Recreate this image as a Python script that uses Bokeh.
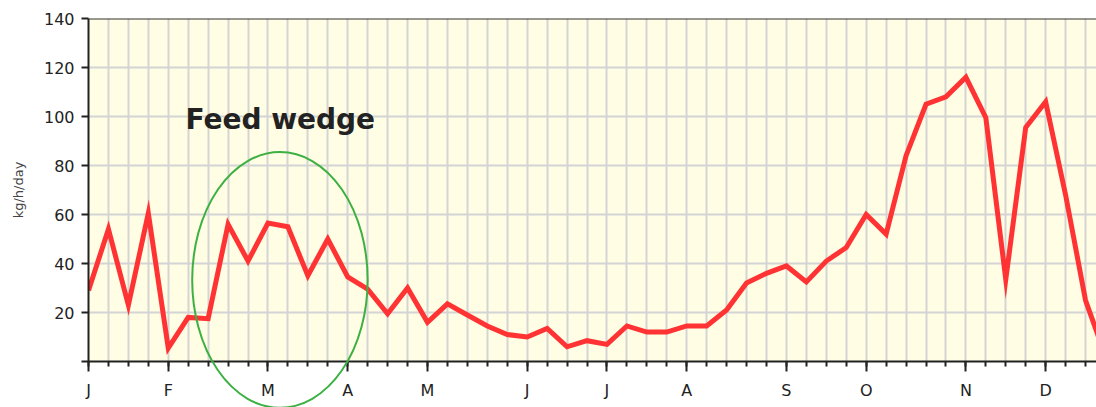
from bokeh.plotting import figure
from bokeh.models import Range1d, FixedTicker, Span, Label, ColumnDataSource
from bokeh.embed import file_html
from bokeh.resources import INLINE

# ---- data ----
weeks = list(range(52))
growth = [29, 54, 23, 60.5, 5.5, 18, 17.5, 56, 41, 56.5,
          55, 35, 50, 34.5, 29.5, 19.5, 30, 16, 23.5, 19,
          14.5, 11, 10, 13.5, 6, 8.5, 7, 14.5, 12, 12,
          14.5, 14.5, 21, 32, 36, 39, 32.5, 41, 46.5, 60,
          52, 84, 105, 108, 116, 99.5, 33.5, 95.5, 106, 68,
          25, 2]
month_labels = ["J", "F", "M", "A", "M", "J", "J", "A", "S", "O", "N", "D"]
month_weeks = [0, 4, 9, 13, 17, 22, 26, 30, 35, 39, 44, 48]
y_ticks = [0, 20, 40, 60, 80, 100, 120, 140]
y_labels = ["", "20", "40", "60", "80", "100", "120", "140"]
annotation_text = "Feed wedge"
y_axis_title = "kg/h/day"

FONT = "DejaVu Sans"
TXT = "#222222"
GREEN = "#3cb043"

p = figure(width=1096, height=407, output_backend="svg", toolbar_location=None,
           x_range=Range1d(0, 50.55), y_range=Range1d(0, 140),
           min_border_left=88, min_border_right=0, min_border_top=18, min_border_bottom=46)
p.background_fill_color = "#fffde4"
p.border_fill_color = "white"
p.outline_line_color = None

# grids
p.xgrid.ticker = FixedTicker(ticks=list(range(0, 52)))
p.xgrid.grid_line_color = "#d4d4d4"
p.xgrid.grid_line_width = 2
p.ygrid.ticker = FixedTicker(ticks=y_ticks)
p.ygrid.grid_line_color = "#d4d4d4"
p.ygrid.grid_line_width = 2

# x axis
xa = p.xaxis[0]
xa.ticker = FixedTicker(ticks=month_weeks, minor_ticks=list(range(0, 52)))
xa.major_label_overrides = {w: l for w, l in zip(month_weeks, month_labels)}
xa.axis_line_color = TXT
xa.axis_line_width = 2
xa.major_tick_line_color = TXT
xa.major_tick_line_width = 2
xa.major_tick_out = 10
xa.major_tick_in = 0
xa.minor_tick_line_color = TXT
xa.minor_tick_line_width = 2
xa.minor_tick_out = 5
xa.minor_tick_in = 0
xa.major_label_text_font = FONT
xa.major_label_text_font_size = "16px"
xa.major_label_text_color = TXT
xa.major_label_standoff = 9

# y axis
ya = p.yaxis[0]
ya.ticker = FixedTicker(ticks=y_ticks)
ya.major_label_overrides = {t: l for t, l in zip(y_ticks, y_labels)}
ya.axis_line_color = TXT
ya.axis_line_width = 2
ya.major_tick_line_color = TXT
ya.major_tick_line_width = 2
ya.major_tick_out = 7
ya.major_tick_in = 0
ya.minor_tick_line_color = None
ya.major_label_text_font = FONT
ya.major_label_text_font_size = "16px"
ya.major_label_text_color = TXT
ya.major_label_standoff = 7
ya.axis_label = y_axis_title
ya.axis_label_text_font = FONT
ya.axis_label_text_font_size = "13px"
ya.axis_label_text_font_style = "normal"
ya.axis_label_text_color = "#444444"
ya.axis_label_standoff = 15

# top border line
p.add_layout(Span(location=140, dimension="width", line_color="#333333", line_width=2))

# data line
src = ColumnDataSource(dict(x=weeks, y=growth))
p.line("x", "y", source=src, line_color="#ff3333", line_width=5, line_join="miter")

# green ellipse (feed wedge highlight), drawn on the overlay level so it is not clipped
cx, cy, rx, ry = 9.60, 33.3, 4.40, 52.2
p.ellipse(x=[cx], y=[cy], width=[2 * rx], height=[2 * ry], fill_color=None,
          line_color=GREEN, line_width=2, level="overlay")

# title annotation
p.add_layout(Label(x=4.86, y=98.6, text=annotation_text, text_font=FONT,
                   text_font_size="28px", text_font_style="bold", text_color=TXT,
                   text_baseline="alphabetic"))

open("out.html", "w").write(file_html(p, INLINE))
